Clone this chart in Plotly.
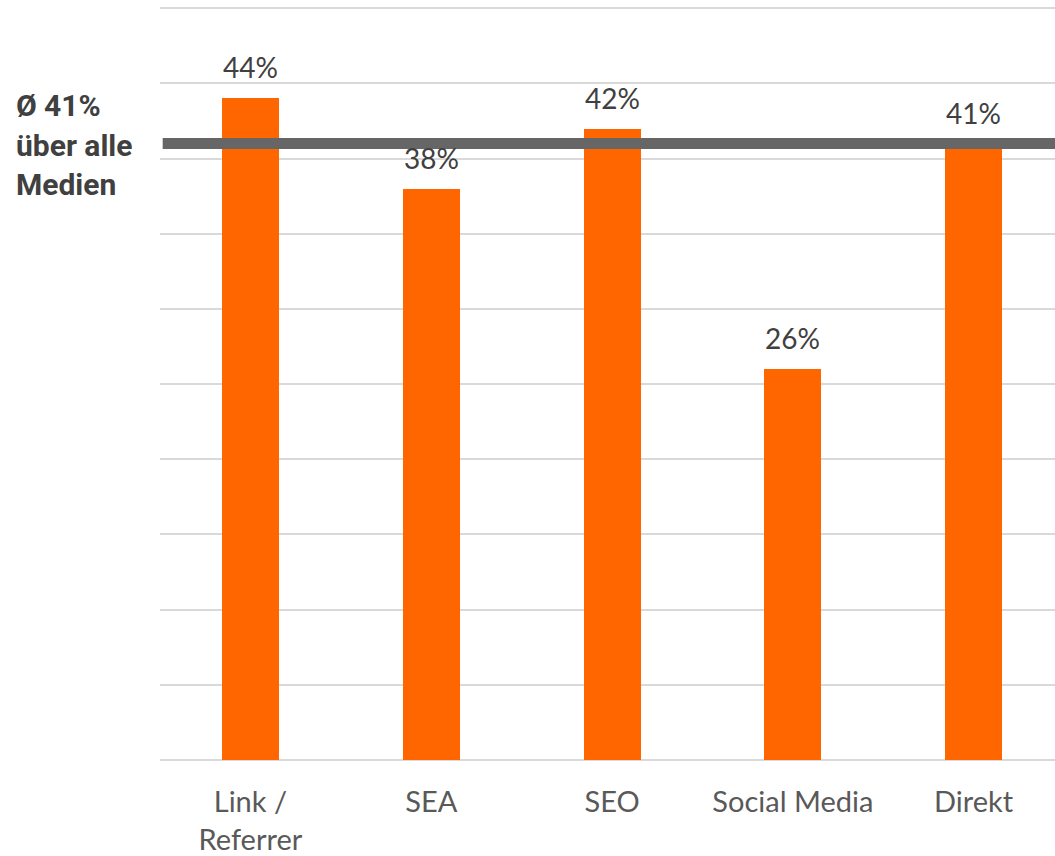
import plotly.graph_objects as go

categories = ["Link /<br>Referrer", "SEA", "SEO", "Social Media", "Direkt"]
values = [44, 38, 42, 26, 41]
labels = ["44%", "38%", "42%", "26%", "41%"]
average = 41
avg_text = ["Ø 41%", "über alle", "Medien"]
y_ticks = [0, 5, 10, 15, 20, 25, 30, 35, 40, 45, 50]

x_idx = list(range(len(categories)))

fig = go.Figure()
fig.add_trace(go.Bar(
    x=x_idx, y=values, width=0.315,
    marker=dict(color="#FF6600", line=dict(width=0)),
    hoverinfo="skip",
))

for xi, v, t in zip(x_idx, values, labels):
    fig.add_annotation(x=xi, y=v, text=t, showarrow=False, yanchor="bottom",
                       yshift=12, font=dict(family="Lato", size=28, color="#404040"))

fig.add_shape(type="line", xref="paper", yref="y", x0=0.003, x1=1, y0=average, y1=average,
              line=dict(color="#666666", width=11))

for i, t in enumerate(avg_text):
    fig.add_annotation(xref="paper", yref="paper", x=-0.163, xanchor="left",
                       y=1 - (117 - 6 + i * 40) / 756, yanchor="bottom", yshift=-8,
                       text=f"<b>{t}</b>", showarrow=False, align="left",
                       font=dict(family="Roboto", size=30, color="#404040"))

fig.update_layout(
    width=1055, height=856,
    margin=dict(l=160, r=0, t=6, b=94),
    plot_bgcolor="white", paper_bgcolor="white",
    showlegend=False,
    bargap=0,
    xaxis=dict(range=[-0.5, 4.45], tickvals=x_idx, ticktext=categories,
               showgrid=False, zeroline=False, showline=False, ticks="",
               ticklabelstandoff=22,
               tickfont=dict(family="Lato", size=29, color="#595959")),
    yaxis=dict(range=[0, 50.15], tickvals=y_ticks, showticklabels=False,
               showgrid=True, gridcolor="#D9D9D9", gridwidth=2,
               zeroline=True, zerolinecolor="#D9D9D9", zerolinewidth=2,
               showline=False, ticks=""),
)

fig.write_html("out.html")
